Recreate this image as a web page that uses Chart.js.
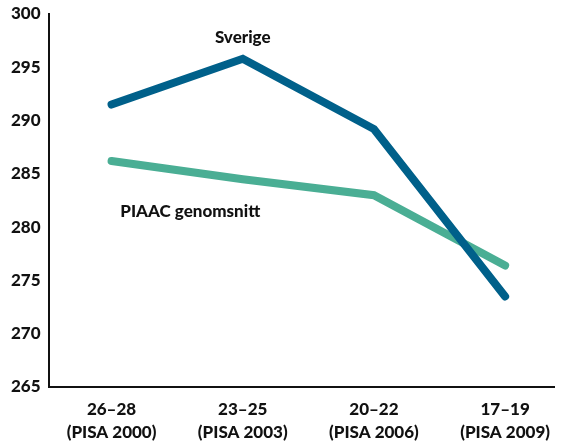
<!DOCTYPE html>
<html>
<head>
<meta charset="utf-8">
<script src="https://cdn.jsdelivr.net/npm/chart.js@4/dist/chart.umd.min.js"></script>
<style>
  html, body { margin: 0; padding: 0; background: #fff; }
  #wrap { width: 561px; height: 444px; }
</style>
</head>
<body>
<div id="wrap"><canvas id="myChart"></canvas></div>
<script>
// categories (age group / PISA round)
var categories = [
    ["26\u201328", "(PISA 2000)"],
    ["23\u201325", "(PISA 2003)"],
    ["20\u201322", "(PISA 2006)"],
    ["17\u201319", "(PISA 2009)"]
];
var sverige = [291.5, 295.8, 289.2, 273.5];
var piaac = [286.2, 284.5, 283.0, 276.4];
var yTicks = [265, 270, 275, 280, 285, 290, 295, 300];

// series labels written in the plot, anchored at data coordinates
var seriesLabels = [
    { text: "Sverige", x: 1, y: 297.8 },
    { text: "PIAAC genomsnitt", x: 0.6, y: 281.5 }
];

function toPoints(vals) {
    return vals.map(function (v, i) { return { x: i, y: v }; });
}

var labelPlugin = {
    id: 'seriesLabels',
    afterDatasetsDraw: function (chart) {
        var ctx = chart.ctx;
        var xs = chart.scales.x, ys = chart.scales.y;
        ctx.save();
        ctx.font = '900 17px Lato';
        ctx.fillStyle = '#111';
        ctx.textAlign = 'center';
        ctx.textBaseline = 'middle';
        seriesLabels.forEach(function (l) {
            ctx.fillText(l.text, xs.getPixelForValue(l.x), ys.getPixelForValue(l.y));
        });
        ctx.restore();
    }
};

function createChart() {
    var ctx = document.getElementById("myChart");
    var myChart = new Chart(ctx, {
        type: 'line',
        data: {
            datasets: [{
                label: 'Sverige',
                data: toPoints(sverige),
                borderColor: '#00608a',
                borderWidth: 8,
                borderCapStyle: 'round',
                borderJoinStyle: 'miter',
                pointRadius: 0,
                fill: false,
                tension: 0
            }, {
                label: 'PIAAC genomsnitt',
                data: toPoints(piaac),
                borderColor: '#4aae94',
                borderWidth: 8,
                borderCapStyle: 'round',
                borderJoinStyle: 'miter',
                pointRadius: 0,
                fill: false,
                tension: 0
            }]
        },
        options: {
            responsive: true,
            maintainAspectRatio: false,
            animation: false,
            layout: { padding: { left: 3, right: 0, top: 0, bottom: 0 } },
            plugins: {
                legend: { display: false },
                tooltip: { enabled: false }
            },
            scales: {
                x: {
                    type: 'linear',
                    min: -0.48,
                    max: 3.38,
                    afterBuildTicks: function (axis) {
                        axis.ticks = categories.map(function (c, i) { return { value: i }; });
                    },
                    afterFit: function (axis) {
                        axis.height = 57;
                    },
                    ticks: {
                        callback: function (value) { return categories[value]; },
                        color: '#111',
                        font: { family: 'Lato', size: 17, weight: '900', lineHeight: 1.35 },
                        maxRotation: 0,
                        autoSkip: false,
                        padding: 11
                    },
                    grid: { display: false, drawTicks: false },
                    border: { display: true, color: '#111', width: 2 }
                },
                y: {
                    min: 265,
                    max: 300,
                    afterBuildTicks: function (axis) {
                        axis.ticks = yTicks.map(function (v) { return { value: v }; });
                    },
                    afterFit: function (axis) {
                        axis.paddingTop = 14;
                        axis.paddingBottom = 0;
                    },
                    ticks: {
                        color: '#111',
                        font: { family: 'Lato', size: 17, weight: '900' },
                        padding: 8
                    },
                    grid: { display: false, drawTicks: false },
                    border: { display: true, color: '#111', width: 2 }
                }
            }
        },
        plugins: [labelPlugin]
    });
}

createChart();
</script>
</body>
</html>
